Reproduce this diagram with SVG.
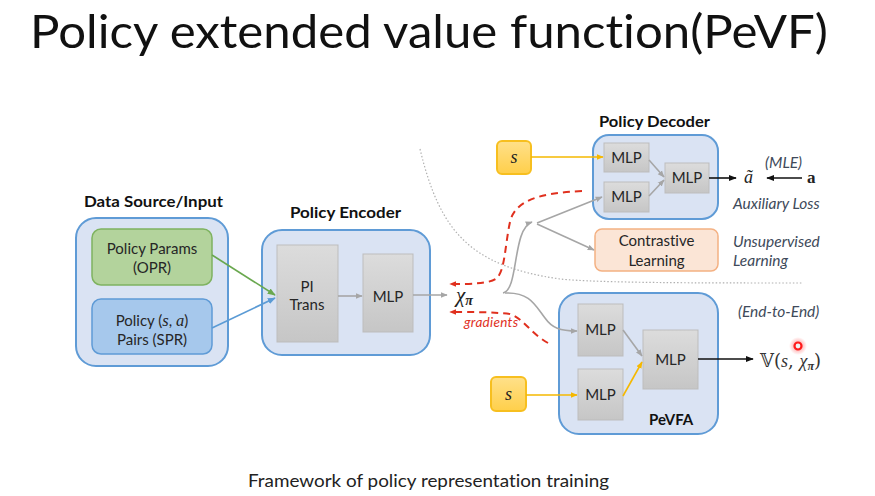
<svg xmlns="http://www.w3.org/2000/svg" width="875" height="496" viewBox="0 0 875 496">
  <defs>
    <linearGradient id="gray" x1="0" y1="0" x2="0" y2="1">
      <stop offset="0" stop-color="#dcdcdc"/>
      <stop offset="1" stop-color="#c6c6c6"/>
    </linearGradient>
    <linearGradient id="gold" x1="0" y1="0" x2="0" y2="1">
      <stop offset="0" stop-color="#ffe08a"/>
      <stop offset="1" stop-color="#ffcf4a"/>
    </linearGradient>
    <radialGradient id="glow">
      <stop offset="0" stop-color="#ff2020" stop-opacity="0.55"/>
      <stop offset="1" stop-color="#ff2020" stop-opacity="0"/>
    </radialGradient>
    <marker id="ah-gray" viewBox="0 0 10 10" refX="9" refY="5" markerWidth="7" markerHeight="7" orient="auto" markerUnits="userSpaceOnUse">
      <path d="M0,1 L10,5 L0,9 Z" fill="#a6a6a6"/>
    </marker>
    <marker id="ah-black" viewBox="0 0 10 10" refX="9" refY="5" markerWidth="8" markerHeight="8" orient="auto" markerUnits="userSpaceOnUse">
      <path d="M0,1 L10,5 L0,9 Z" fill="#111"/>
    </marker>
    <marker id="ah-gold" viewBox="0 0 10 10" refX="9" refY="5" markerWidth="7" markerHeight="7" orient="auto" markerUnits="userSpaceOnUse">
      <path d="M0,1 L10,5 L0,9 Z" fill="#f5b800"/>
    </marker>
    <marker id="ah-green" viewBox="0 0 10 10" refX="9" refY="5" markerWidth="8" markerHeight="8" orient="auto" markerUnits="userSpaceOnUse">
      <path d="M0,1 L10,5 L0,9 Z" fill="#6aa84f"/>
    </marker>
    <marker id="ah-blue" viewBox="0 0 10 10" refX="9" refY="5" markerWidth="8" markerHeight="8" orient="auto" markerUnits="userSpaceOnUse">
      <path d="M0,1 L10,5 L0,9 Z" fill="#5b9bd5"/>
    </marker>
    <marker id="ah-red" viewBox="0 0 10 10" refX="9" refY="5" markerWidth="7" markerHeight="7" orient="auto" markerUnits="userSpaceOnUse">
      <path d="M0,1 L10,5 L0,9 Z" fill="#e0301e"/>
    </marker>
  </defs>
  <style>
    text { font-family: Lato, "Open Sans", "Liberation Sans", sans-serif; fill: #222; font-variant-ligatures: none; }
    .title { font-size: 47px; fill: #111; }
    .caption { font-size: 18px; fill: #222; }
    .head { font-size: 15px; font-weight: bold; fill: #111; }
    .lbl { font-size: 15px; text-anchor: middle; fill: #262626; }
    .note { font-size: 15.5px; font-style: italic; fill: #404a5a; }
    .grad { font-size: 13.5px; font-style: italic; fill: #e0301e; letter-spacing: 0.3px; }
    .math { font-family: "Liberation Serif", "DejaVu Serif", serif; font-style: italic; }
    .bb { font-family: "DejaVu Serif", "DejaVu Sans", serif; fill: #333; font-size: 18px; }
    .bold-a { font-family: "Liberation Serif", "DejaVu Serif", serif; font-weight: bold; font-size: 17px; }
    .panel { fill: #dae3f3; stroke: #5f9bd6; stroke-width: 2; }
    .mlp { fill: url(#gray); stroke: #bdbdbd; stroke-width: 1; }
    .sbox { fill: url(#gold); stroke: #f7bf1f; stroke-width: 2; }
    .link { fill: none; stroke-width: 1.6; }
    .g { stroke: #a6a6a6; }
    .k { stroke: #111; stroke-width: 1.6; }
    .y { stroke: #f5b800; }
    .r { stroke: #e0301e; stroke-width: 2; stroke-dasharray: 7 5; }
  </style>

  <!-- heading and caption -->
  <text class="title" x="30" y="48" textLength="798" lengthAdjust="spacingAndGlyphs">Policy extended value function(PeVF)</text>
  <text class="caption" x="248" y="487" textLength="361" lengthAdjust="spacingAndGlyphs">Framework of policy representation training</text>

  <!-- dotted divider between the learning regimes -->
  <path d="M420,149 C440,232 470,266 560,279 C600,283 700,283 802,283" fill="none" stroke="#b0b0b0" stroke-width="1.2" stroke-dasharray="1.5 2"/>

  <!-- data source -->
  <g id="data-source">
    <text class="head" x="84" y="207" textLength="139" lengthAdjust="spacingAndGlyphs">Data Source/Input</text>
    <rect class="panel" x="76" y="218" width="152" height="148" rx="20"/>
    <g id="policy-params">
      <rect x="92" y="229" width="120" height="56" rx="9" fill="#b3d39c" stroke="#7fb360" stroke-width="1.5"/>
      <text class="lbl" x="152" y="254">Policy Params</text>
      <text class="lbl" x="152" y="273">(OPR)</text>
    </g>
    <g id="policy-pairs">
      <rect x="92" y="299" width="120" height="55" rx="9" fill="#a6c8ec" stroke="#5f9bd6" stroke-width="1.5"/>
      <text class="lbl" x="152" y="326">Policy (<tspan class="math" font-size="16.5">s</tspan>, <tspan class="math" font-size="16.5">a</tspan>)</text>
      <text class="lbl" x="152" y="345">Pairs (SPR)</text>
    </g>
  </g>

  <!-- policy encoder -->
  <g id="policy-encoder">
    <text class="head" x="290" y="218" textLength="111" lengthAdjust="spacingAndGlyphs">Policy Encoder</text>
    <rect class="panel" x="262" y="230" width="168" height="125" rx="20"/>
    <rect class="mlp" x="277" y="245" width="61" height="97"/>
    <text class="lbl" x="307" y="292">PI</text>
    <text class="lbl" x="307" y="310">Trans</text>
    <rect class="mlp" x="363" y="254" width="50" height="78"/>
    <text class="lbl" x="388" y="302">MLP</text>
  </g>

  <!-- policy embedding -->
  <g id="embedding">
    <text class="math" x="456" y="302" font-size="21">χ<tspan font-size="14" dy="3" font-weight="bold">π</tspan></text>
    <text class="grad" x="464" y="327">gradients</text>
  </g>

  <!-- policy decoder -->
  <g id="policy-decoder">
    <text class="head" x="599" y="127" textLength="111" lengthAdjust="spacingAndGlyphs">Policy Decoder</text>
    <rect class="panel" x="593" y="135" width="125" height="84" rx="16"/>
    <rect class="mlp" x="604" y="143" width="45" height="29"/>
    <text class="lbl" x="626.5" y="163">MLP</text>
    <rect class="mlp" x="604" y="182" width="45" height="30"/>
    <text class="lbl" x="626.5" y="202">MLP</text>
    <rect class="mlp" x="665" y="163" width="44" height="30"/>
    <text class="lbl" x="687" y="183">MLP</text>
    <text class="math" x="744" y="183" font-size="18">ã</text>
    <text class="note" x="765" y="168">(MLE)</text>
    <text class="bold-a" x="807" y="183">a</text>
    <text class="note" x="733" y="209">Auxiliary Loss</text>
  </g>

  <g id="state-top">
    <rect class="sbox" x="497" y="141" width="34" height="33" rx="5"/>
    <text class="math" x="514" y="163" font-size="18" text-anchor="middle">s</text>
  </g>

  <!-- contrastive branch -->
  <g id="contrastive">
    <rect x="595" y="229" width="123" height="42" rx="7" fill="#fbe5d6" stroke="#f4b183" stroke-width="1.5"/>
    <text class="lbl" x="656.5" y="246">Contrastive</text>
    <text class="lbl" x="656.5" y="266">Learning</text>
    <text class="note" x="733" y="247">Unsupervised</text>
    <text class="note" x="733" y="266">Learning</text>
  </g>

  <!-- value approximator -->
  <g id="pevfa">
    <rect class="panel" x="559" y="293" width="159" height="141" rx="20"/>
    <rect class="mlp" x="578" y="304" width="45" height="52"/>
    <text class="lbl" x="600.5" y="335">MLP</text>
    <rect class="mlp" x="578" y="369" width="45" height="51"/>
    <text class="lbl" x="600.5" y="400">MLP</text>
    <rect class="mlp" x="643" y="330" width="55" height="59"/>
    <text class="lbl" x="670.5" y="365">MLP</text>
    <text class="head" x="649" y="425">PeVFA</text>
    <text class="note" x="738" y="317">(End-to-End)</text>
    <text class="bb" x="760" y="367">𝕍(<tspan class="math">s</tspan>, <tspan class="math">χ</tspan><tspan class="math" font-size="12" dy="3" font-weight="bold">π</tspan><tspan dy="-3">)</tspan></text>
  </g>

  <g id="state-bottom">
    <rect class="sbox" x="491" y="377" width="35" height="34" rx="5"/>
    <text class="math" x="508.5" y="400" font-size="18" text-anchor="middle">s</text>
  </g>

  <!-- laser pointer mark -->
  <g id="pointer">
    <circle cx="798" cy="346" r="9" fill="url(#glow)"/>
    <circle cx="798" cy="346" r="3.5" fill="#f0f0f0" stroke="#ff1a1a" stroke-width="2.2"/>
  </g>

  <g id="connectors">
    <path class="link" d="M212,255 L275,295" stroke="#6aa84f" marker-end="url(#ah-green)"/>
    <path class="link" d="M212,328 L275,298" stroke="#5b9bd5" marker-end="url(#ah-blue)"/>
    <path class="link g" d="M338,296 L362,296" marker-end="url(#ah-gray)"/>
    <path class="link g" d="M413,295 L447,295" marker-end="url(#ah-gray)"/>
    <path class="link y" d="M531,157 L603,157" marker-end="url(#ah-gold)"/>
    <path class="link g" d="M649,160 L664,177" marker-end="url(#ah-gray)"/>
    <path class="link g" d="M649,196 L664,180" marker-end="url(#ah-gray)"/>
    <path class="link k" d="M709,178 L736,178" marker-end="url(#ah-black)"/>
    <path class="link k" d="M802,178 L767,178" marker-end="url(#ah-black)"/>
    <path class="link g" d="M503,293 C519,290 512,229 532,222" marker-end="url(#ah-gray)"/>
    <path class="link g" d="M537,223 L602,197" marker-end="url(#ah-gray)"/>
    <path class="link g" d="M537,224 L594,250" marker-end="url(#ah-gray)"/>
    <path class="link g" d="M505,293 C530,292 535,305 545,318 C552,328 560,331 577,331" marker-end="url(#ah-gray)"/>
    <path class="link g" d="M623,330 L642,356" marker-end="url(#ah-gray)"/>
    <path class="link y" d="M623,396 L642,362" marker-end="url(#ah-gold)"/>
    <path class="link k" d="M698,359 L753,359" marker-end="url(#ah-black)"/>
    <path class="link y" d="M526,395 L577,395" marker-end="url(#ah-gold)"/>
    <path class="link r" d="M582,191 C540,193 515,200 510,222 C505,245 505,270 497,278 C490,284 470,284 450,284" marker-end="url(#ah-red)"/>
    <path class="link r" d="M548,343 C530,333 523,318 510,314 C495,312 470,312 450,312" marker-end="url(#ah-red)"/>
  </g>
</svg>
